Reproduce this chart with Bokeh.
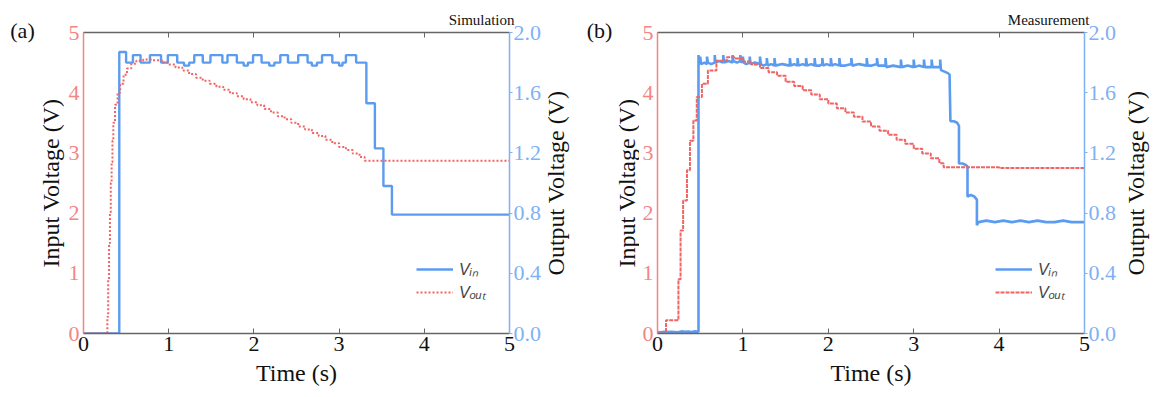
import math
from bokeh.plotting import figure
from bokeh.models import (Range1d, LinearAxis, FixedTicker, PrintfTickFormatter,
                          Label, Legend, LegendItem)
from bokeh.layouts import row
from bokeh.embed import file_html
from bokeh.resources import INLINE

# ---------------- data ----------------
x_ticks = [0, 1, 2, 3, 4, 5]
left_ticks = [0, 1, 2, 3, 4, 5]
right_ticks = [0.0, 0.4, 0.8, 1.2, 1.6, 2.0]

# (a) Simulation: Vin (right axis, V), step "after"
sim_vin_t = [0.00, 0.42, 0.50, 0.58, 0.67, 0.78, 0.91, 0.99, 1.10, 1.18, 1.24, 1.30, 1.40,
             1.49, 1.63, 1.69, 1.80, 1.88, 1.93, 1.99, 2.09, 2.18, 2.24, 2.31, 2.40, 2.52,
             2.63, 2.68, 2.74, 2.80, 2.92, 3.00, 3.04, 3.08, 3.20, 3.32, 3.42, 3.52, 3.62, 5.00]
sim_vin = [0.00, 1.87, 1.80, 1.85, 1.80, 1.85, 1.80, 1.85, 1.80, 1.78, 1.80, 1.85, 1.80,
           1.85, 1.80, 1.85, 1.80, 1.78, 1.80, 1.85, 1.80, 1.78, 1.80, 1.85, 1.80, 1.85,
           1.80, 1.78, 1.80, 1.85, 1.80, 1.78, 1.80, 1.85, 1.80, 1.53, 1.23, 0.98, 0.79, 0.79]

# (a) Simulation: Vout (left axis, V), step "after"
sim_vout_t = [0.00, 0.28, 0.29, 0.30, 0.31, 0.32, 0.33, 0.34, 0.35, 0.37, 0.40, 0.43, 0.47,
              0.51, 0.56, 0.62, 0.70, 0.80, 0.92, 1.00, 1.08, 1.16, 1.24, 1.32, 1.40, 1.48,
              1.56, 1.64, 1.72, 1.80, 1.88, 1.96, 2.04, 2.12, 2.20, 2.28, 2.36, 2.44, 2.52,
              2.60, 2.68, 2.76, 2.84, 2.92, 3.00, 3.08, 3.16, 3.24, 3.30, 5.00]
sim_vout = [0.00, 0.28, 0.90, 1.50, 2.00, 2.50, 2.85, 3.20, 3.50, 3.80, 4.00, 4.15, 4.30,
            4.40, 4.48, 4.53, 4.55, 4.54, 4.50, 4.47, 4.42, 4.37, 4.31, 4.25, 4.20, 4.15,
            4.10, 4.05, 3.99, 3.94, 3.89, 3.84, 3.79, 3.73, 3.67, 3.61, 3.56, 3.50, 3.44,
            3.39, 3.33, 3.28, 3.22, 3.16, 3.10, 3.05, 2.99, 2.93, 2.87, 2.87]

# (b) Measurement: Vin (right axis, V), polyline
meas_vin_t = [0.00, 0.04, 0.08, 0.12, 0.16, 0.20, 0.24, 0.28, 0.32, 0.36, 0.40, 0.44, 0.48,
              0.48, 0.49, 0.50, 0.50, 0.51, 0.55, 0.58, 0.58, 0.59, 0.63, 0.67, 0.67, 0.68,
              0.72, 0.77, 0.77, 0.78, 0.83, 0.88, 0.88, 0.89, 0.93, 0.97, 0.97, 0.98, 1.00,
              1.00, 1.01, 1.04, 1.08, 1.08, 1.09, 1.14, 1.20, 1.20, 1.21, 1.24, 1.28, 1.28,
              1.29, 1.33, 1.37, 1.37, 1.38, 1.46, 1.55, 1.55, 1.56, 1.60, 1.64, 1.64, 1.65,
              1.70, 1.74, 1.74, 1.75, 1.80, 1.84, 1.84, 1.85, 1.90, 1.93, 1.93, 1.94, 1.98,
              2.03, 2.03, 2.04, 2.08, 2.13, 2.13, 2.14, 2.20, 2.27, 2.27, 2.28, 2.36, 2.45,
              2.45, 2.46, 2.51, 2.57, 2.57, 2.58, 2.62, 2.67, 2.67, 2.68, 2.76, 2.85, 2.85,
              2.86, 2.93, 3.00, 3.00, 3.01, 3.06, 3.12, 3.12, 3.13, 3.17, 3.21, 3.21, 3.22,
              3.26, 3.31, 3.31, 3.32, 3.36, 3.40, 3.42, 3.43, 3.47, 3.51, 3.53, 3.53, 3.57,
              3.61, 3.63, 3.63, 3.67, 3.71, 3.74, 3.74, 3.76, 3.85, 3.95, 4.05, 4.15, 4.25,
              4.35, 4.45, 4.55, 4.65, 4.75, 4.85, 4.95, 5.00]
meas_vin = [0.010, 0.008, 0.012, 0.009, 0.011, 0.010, 0.008, 0.014, 0.011, 0.013, 0.010, 0.014, 0.012,
            1.85, 1.79, 1.80, 1.84, 1.79, 1.80, 1.79, 1.84, 1.80, 1.79, 1.80, 1.85, 1.80,
            1.81, 1.80, 1.85, 1.80, 1.81, 1.80, 1.85, 1.81, 1.80, 1.81, 1.85, 1.80, 1.81,
            1.84, 1.80, 1.79, 1.80, 1.84, 1.79, 1.80, 1.79, 1.84, 1.79, 1.78, 1.79, 1.83,
            1.78, 1.79, 1.78, 1.83, 1.78, 1.79, 1.78, 1.83, 1.78, 1.79, 1.78, 1.83, 1.78,
            1.79, 1.78, 1.83, 1.78, 1.79, 1.78, 1.83, 1.78, 1.78, 1.79, 1.83, 1.78, 1.79,
            1.78, 1.83, 1.78, 1.79, 1.78, 1.83, 1.78, 1.78, 1.79, 1.83, 1.78, 1.79, 1.78,
            1.83, 1.78, 1.78, 1.79, 1.83, 1.78, 1.78, 1.78, 1.83, 1.77, 1.78, 1.77, 1.82,
            1.77, 1.78, 1.77, 1.82, 1.77, 1.78, 1.77, 1.82, 1.77, 1.77, 1.77, 1.82, 1.77,
            1.77, 1.77, 1.82, 1.75, 1.74, 1.73, 1.72, 1.41, 1.41, 1.40, 1.38, 1.13, 1.13,
            1.12, 1.11, 0.91, 0.92, 0.91, 0.89, 0.72, 0.74, 0.75, 0.74, 0.75, 0.74, 0.75,
            0.74, 0.75, 0.74, 0.74, 0.75, 0.74, 0.74, 0.74]

# (b) Measurement: Vout (left axis, V), step "after"
meas_vout_t = [0.00, 0.10, 0.245, 0.27, 0.30, 0.345, 0.38, 0.42, 0.46, 0.52, 0.59, 0.69,
               0.81, 0.90, 1.00, 1.10, 1.20, 1.30, 1.40, 1.50, 1.60, 1.70, 1.80, 1.90, 2.00,
               2.10, 2.20, 2.30, 2.40, 2.50, 2.60, 2.70, 2.80, 2.90, 3.00, 3.10, 3.20, 3.30,
               3.35, 4.00, 5.00]
meas_vout = [0.00, 0.22, 0.90, 1.71, 2.21, 2.71, 3.20, 3.54, 3.93, 4.15, 4.37, 4.53,
             4.59, 4.57, 4.52, 4.47, 4.41, 4.34, 4.28, 4.18, 4.11, 4.04, 3.97, 3.89, 3.82,
             3.74, 3.67, 3.60, 3.52, 3.44, 3.37, 3.30, 3.22, 3.15, 3.07, 2.99, 2.91, 2.83,
             2.76, 2.75, 2.73]

BLUE = "#5c9cf0"
BLUE_AX = "#7fb1f4"
RED = "#f06464"
RED_AX = "#f38585"
SERIF = "'Liberation Serif'"
H = 397
YMID = H - 182.5   # vertical centre of the plot frames, in side-strip coordinates


def side_strip(w, labels):
    """A narrow blank figure that carries the outer texts (panel tag, axis titles)."""
    t = figure(width=w, height=H, x_range=Range1d(0, w), y_range=Range1d(0, H),
               output_backend="svg", toolbar_location=None, x_axis_type=None,
               y_axis_type=None, min_border=0, title=None)
    if "frame_align" in t.properties():
        t.frame_align = False
    t.outline_line_color = None
    t.xgrid.visible = False
    t.ygrid.visible = False
    for (x, y, text, size, angle) in labels:
        t.add_layout(Label(x=x, y=y, text=text, text_align="center",
                           text_baseline="middle", angle=angle, text_font=SERIF,
                           text_font_size=size, text_color="#111111"))
    return t


def style_axis(ax, color):
    ax.major_label_text_font = SERIF
    ax.major_label_text_font_size = "22px"
    ax.axis_line_color = color
    ax.axis_line_width = 1.5
    ax.major_tick_line_color = color
    ax.minor_tick_line_color = None


def panel(title, vin_t, vin, vout_t, vout, measured, width, leg_x):
    p = figure(width=width, height=H, x_range=Range1d(0, 5), y_range=Range1d(0, 5),
               output_backend="svg", toolbar_location=None,
               min_border_left=18, min_border_right=32,
               min_border_top=32, min_border_bottom=64)
    p.extra_y_ranges = {"right": Range1d(0, 2)}
    p.outline_line_color = None
    p.xgrid.visible = False
    p.ygrid.visible = False

    p.title.text = title
    p.title.align = "right"
    p.title.text_font = SERIF
    p.title.text_font_style = "normal"
    p.title.text_font_size = "15px"
    p.title.text_color = "#111111"
    p.title.standoff = 9
    p.title.offset = -5

    # bottom axis
    xa = p.xaxis[0]
    xa.ticker = FixedTicker(ticks=x_ticks)
    style_axis(xa, "#666666")
    xa.axis_label = "Time (s)"
    xa.axis_label_text_font = SERIF
    xa.axis_label_text_font_style = "normal"
    xa.axis_label_text_font_size = "24px"
    xa.axis_label_text_color = "#111111"
    xa.major_label_text_color = "#111111"
    xa.axis_label_standoff = 6
    xa.major_label_standoff = 3
    xa.major_tick_in = 5
    xa.major_tick_out = 0

    # top axis (ticks only)
    ta = LinearAxis(ticker=FixedTicker(ticks=x_ticks))
    style_axis(ta, "#666666")
    ta.major_label_text_font_size = "0px"
    ta.major_label_text_color = None
    ta.major_label_standoff = 0
    ta.major_tick_in = 5
    ta.major_tick_out = 0
    p.add_layout(ta, "above")

    # left axis
    ya = p.yaxis[0]
    ya.ticker = FixedTicker(ticks=left_ticks)
    style_axis(ya, RED_AX)
    ya.major_label_text_color = RED_AX
    ya.major_label_standoff = 4
    ya.major_tick_in = 0
    ya.major_tick_out = 0

    # right axis
    ra = LinearAxis(y_range_name="right", ticker=FixedTicker(ticks=right_ticks),
                    formatter=PrintfTickFormatter(format="%.1f"))
    style_axis(ra, BLUE_AX)
    ra.major_label_text_color = BLUE_AX
    ra.major_label_standoff = 1
    ra.major_tick_in = 0
    ra.major_tick_out = 3
    p.add_layout(ra, "right")

    # data
    if measured:
        r_in = p.line(vin_t, vin, y_range_name="right", line_color=BLUE, line_width=2.6)
        r_out = p.step(vout_t, vout, mode="after", line_color=RED, line_width=2,
                       line_dash="4 1")
    else:
        r_in = p.step(vin_t, vin, mode="after", y_range_name="right", line_color=BLUE,
                      line_width=2.4)
        r_out = p.step(vout_t, vout, mode="after", line_color=RED, line_width=2,
                       line_dash="2 2")

    legend = Legend(items=[LegendItem(label="V\u1d62\u2099", renderers=[r_in]),
                           LegendItem(label="V\u2092\u1d64\u209c", renderers=[r_out])],
                    location=(leg_x, 30))
    legend.background_fill_alpha = 0
    legend.border_line_color = None
    legend.padding = 0
    legend.margin = 0
    legend.spacing = 1
    legend.glyph_width = 37
    legend.glyph_height = 20
    legend.label_height = 20
    legend.label_standoff = 6
    legend.label_text_font = "'Liberation Sans'"
    legend.label_text_font_style = "italic"
    legend.label_text_font_size = "16px"
    p.add_layout(legend, "center")
    return p


ROT = math.pi / 2
left_a = side_strip(65, [(22, H - 30, "(a)", "22px", 0),
                         (50, YMID, "Input Voltage (V)", "24px", ROT)])
pa = panel("Simulation", sim_vin_t, sim_vin, sim_vout_t, sim_vout, False, 479, 333)
right_a = side_strip(33, [(11.5, YMID, "Output Voltage (V)", "24px", ROT)])

left_b = side_strip(62, [(22, H - 30, "(b)", "22px", 0),
                         (49, YMID, "Input Voltage (V)", "24px", ROT)])
pb = panel("Measurement", meas_vin_t, meas_vin, meas_vout_t, meas_vout, True, 480, 338)
right_b = side_strip(35, [(16, YMID, "Output Voltage (V)", "24px", ROT)])

layout = row(left_a, pa, right_a, left_b, pb, right_b, spacing=0)
open("out.html", "w").write(file_html(layout, INLINE))
